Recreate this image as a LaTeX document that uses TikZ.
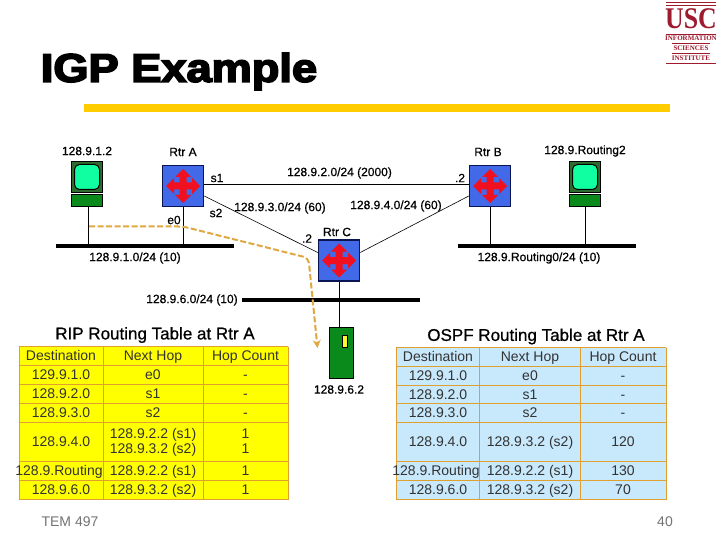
\documentclass[tikz,border=0pt]{standalone}
\usepackage{fontspec}
\setmainfont{Liberation Sans}
\newfontfamily\labelfont[FakeBold=0.7]{Liberation Sans}
\newfontfamily\titlefont[FakeBold=4]{Liberation Sans Bold}
\newfontfamily\logofont{Liberation Serif}
\usetikzlibrary{arrows.meta,calc}
\definecolor{barYellow}{HTML}{FFCC00}
\definecolor{rtrBlue}{HTML}{4169E8}
\definecolor{rtrNavy}{HTML}{0A1450}
\definecolor{rtrRed}{HTML}{F01020}
\definecolor{hostDark}{HTML}{2F6B2F}
\definecolor{hostGreen}{HTML}{0A8A1A}
\definecolor{hostScreen}{HTML}{10FFA0}
\definecolor{pathOrange}{HTML}{E0A840}
\definecolor{gridOrange}{HTML}{E0A030}
\definecolor{ripFill}{HTML}{FFFF00}
\definecolor{ospfFill}{HTML}{C8E8FC}
\definecolor{logoRed}{HTML}{9E1B2E}
\newcommand{\routerarrows}[1]{%
  \foreach \a in {0,90,180,270}
    \fill[rtrRed, shift={(#1)}, rotate=\a] (17,0) -- (9,-8) -- (9,-3.5) -- (0,-3.5) -- (0,3.5) -- (9,3.5) -- (9,8) -- cycle;}
\begin{document}
\begin{tikzpicture}[
    x=1pt, y=-1pt,
    lbl/.style={font=\labelfont\fontsize{12}{14}\selectfont, inner sep=0pt},
    router/.style={draw=rtrNavy, line width=1.5pt, fill=rtrBlue, minimum size=41pt, inner sep=0pt},
    monitor/.style={draw=black, line width=0.8pt, fill=hostDark, minimum size=31pt, inner sep=0pt},
    screen/.style={draw=black, line width=1pt, fill=hostScreen, rounded corners=5pt, minimum size=25pt, inner sep=0pt},
    hostbase/.style={draw=black, line width=0.8pt, fill=hostGreen, minimum width=31pt, minimum height=12pt, inner sep=0pt},
    bus/.style={fill=black, minimum width=178pt, minimum height=3.6pt, inner sep=0pt},
    link/.style={draw=black, line width=0.6pt},
    cell/.style={font=\fontsize{14}{15.5}\selectfont, text=black!80, inner sep=0pt, align=center, yshift=-1pt},
    tabletitle/.style={font=\labelfont\fontsize{17}{19}\selectfont, inner sep=0pt},
    footer/.style={font=\fontsize{14}{16}\selectfont, text=black!55, inner sep=0pt},
    logotext/.style={font=\logofont\bfseries\fontsize{7}{8}\selectfont, text=logoRed, inner sep=0pt}]
  \useasboundingbox (0,0) rectangle (720,540);
  \fill[white] (0,0) rectangle (720,540);

  \node[font=\titlefont\fontsize{40}{44}\selectfont, inner sep=0pt, xscale=1.13, transform shape] (title) at (179,71.5) {IGP Example};
  \fill[barYellow] (84,104) rectangle (670,112);

  \draw[logoRed, line width=1pt] (666,3) -- (716,3);
  \draw[logoRed, line width=0.8pt] (666,5.5) -- (716,5.5);
  \node[font=\logofont\bfseries\fontsize{30}{30}\selectfont, text=logoRed, inner sep=0pt, xscale=0.86, transform shape] (usc) at (691,19) {USC};
  \draw[logoRed, line width=0.6pt] (666,34) -- (716,34);
  \node[logotext] (lgA) at (691,38.5) {INFORMATION};
  \draw[logoRed, line width=0.4pt] (672,43.5) -- (710,43.5);
  \node[logotext] (lgB) at (691,48.5) {SCIENCES};
  \draw[logoRed, line width=0.4pt] (672,53.5) -- (710,53.5);
  \node[logotext] (lgC) at (691,58.5) {INSTITUTE};
  \draw[logoRed, line width=1pt] (666,64) -- (716,64);

  \node[router] (rtrA) at (183,186) {};
  \node[router] (rtrB) at (490,186) {};
  \node[router] (rtrC) at (339,260.5) {};
  \routerarrows{rtrA}
  \routerarrows{rtrB}
  \routerarrows{rtrC}

  \foreach \h/\x in {hostL/87, hostR/585} {
    \node[monitor] (\h) at (\x,177) {};
    \node[screen] (\h scr) at (\h) {};
    \node[hostbase] (\h base) at (\x,200.5) {};
  }
  \node[draw=black, line width=1pt, fill=hostGreen, minimum width=24pt, minimum height=51pt, inner sep=0pt] (hostD) at (341.5,353) {};
  \node[draw=black, line width=1pt, fill=yellow!80!white, minimum width=5.5pt, minimum height=12pt, inner sep=0pt] (hostDled) at (345,341.5) {};

  \node[bus] (busA) at (145,246) {};
  \node[bus] (busB) at (547,246) {};
  \node[bus] (busC) at (331,300) {};

  \draw[link] ([yshift=2pt]rtrA.east) -- ([yshift=2pt]rtrB.west);
  \draw[link] ([yshift=-10pt]rtrA.east) -- ([yshift=8pt]rtrC.west);
  \draw[link] ([yshift=-10pt]rtrB.west) -- ([yshift=8pt]rtrC.east);
  \draw[link] (rtrA) -- (rtrA |- busA);
  \draw[link] (rtrB) -- (rtrB |- busB);
  \draw[link] ([xshift=1pt]hostLbase.south) -- ([xshift=1pt]hostLbase.south |- busA);
  \draw[link] (hostRbase) -- (hostRbase |- busB);
  \draw[link] (rtrC) -- (rtrC |- hostD.north);

  \coordinate (pathStart) at (89,226.5);
  \coordinate (pathKnee) at (183,226.5);
  \coordinate (pathBend) at (308.5,258);
  \coordinate (pathEnd) at (317.5,348);
  \draw[pathOrange, line width=2pt, dash pattern=on 6pt off 2.5pt, rounded corners=5pt, -{Stealth[length=8pt,width=8pt]}]
    (pathStart) -- (pathKnee) -- (pathBend) -- (pathEnd);

  \node[lbl] (lbHostL) at (87,151) {128.9.1.2};
  \node[lbl] (lbRtrA) at (183,152) {Rtr A};
  \node[lbl] (lbS1) at (217,178) {s1};
  \node[lbl] (lbE0) at (174,220) {e0};
  \node[lbl] (lbS2) at (216,213) {s2};
  \node[lbl] (lbLinkAB) at (339.5,173) {128.9.2.0/24 (2000)};
  \node[lbl] (lbDotB) at (460,178) {.2};
  \node[lbl] (lbRtrB) at (488,152) {Rtr B};
  \node[lbl] (lbHostR) at (585,151) {128.9.Routing2};
  \node[lbl] (lbLinkAC) at (280,208) {128.9.3.0/24 (60)};
  \node[lbl] (lbLinkBC) at (396,206) {128.9.4.0/24 (60)};
  \node[lbl] (lbDotC) at (307,238.5) {.2};
  \node[lbl] (lbRtrC) at (337,232) {Rtr C};
  \node[lbl] (lbBusA) at (135,258) {128.9.1.0/24 (10)};
  \node[lbl] (lbBusB) at (539,258) {128.9.Routing0/24 (10)};
  \node[lbl] (lbBusC) at (192,300) {128.9.6.0/24 (10)};
  \node[lbl] (lbHostD) at (339,389.5) {128.9.6.2};

  \node[tabletitle] (ripTitle) at (155,335) {RIP Routing Table at Rtr A};
  \fill[ripFill] (19,346.7) rectangle (288,499.5);
  \foreach \y in {346.7,365.5,384.5,403.5,422.5,461.5,480.5,499.5}
    \draw[gridOrange, line width=0.7pt] (19,\y) -- (288,\y);
  \foreach \x in {19,103,203,288}
    \draw[gridOrange, line width=0.7pt] (\x,346.7) -- (\x,499.5);
  \foreach \i/\y/\d/\n/\h in {
      0/356/Destination/Next Hop/Hop Count,
      1/375/129.9.1.0/e0/-,
      2/394/128.9.2.0/s1/-,
      3/413/128.9.3.0/s2/-,
      4/442/128.9.4.0/{128.9.2.2 (s1)\\\strut 128.9.3.2 (s2)}/{1\\\strut 1},
      5/471/128.9.Routing/128.9.2.2 (s1)/1,
      6/490/128.9.6.0/128.9.3.2 (s2)/1} {
    \node[cell] (ripD\i) at (\ifnum\i=5 59\else 61\fi,\y) {\strut\d};
    \node[cell] (ripN\i) at (153,\y) {\strut\n};
    \node[cell] (ripH\i) at (245.5,\y) {\strut\h};
  }

  \node[tabletitle] (ospfTitle) at (536,336.5) {OSPF Routing Table at Rtr A};
  \fill[ospfFill] (396,347.5) rectangle (666,499.5);
  \foreach \y in {347.5,366.5,385,403,422,461,480,499.5}
    \draw[gridOrange, line width=0.7pt] (396,\y) -- (666,\y);
  \foreach \x in {396,479,580,666}
    \draw[gridOrange, line width=0.7pt] (\x,347.5) -- (\x,499.5);
  \foreach \i/\y/\d/\n/\h in {
      0/357/Destination/Next Hop/Hop Count,
      1/376/129.9.1.0/e0/-,
      2/395/128.9.2.0/s1/-,
      3/413/128.9.3.0/s2/-,
      4/442/128.9.4.0/128.9.3.2 (s2)/120,
      5/471/128.9.Routing/128.9.2.2 (s1)/130,
      6/490/128.9.6.0/128.9.3.2 (s2)/70} {
    \node[cell] (ospfD\i) at (\ifnum\i=5 436\else 438\fi,\y) {\strut\d};
    \node[cell] (ospfN\i) at (530,\y) {\strut\n};
    \node[cell] (ospfH\i) at (623,\y) {\strut\h};
  }

  \node[footer] (course) at (70,521.5) {TEM 497};
  \node[footer] (pageNo) at (665,522) {40};
\end{tikzpicture}
\end{document}
